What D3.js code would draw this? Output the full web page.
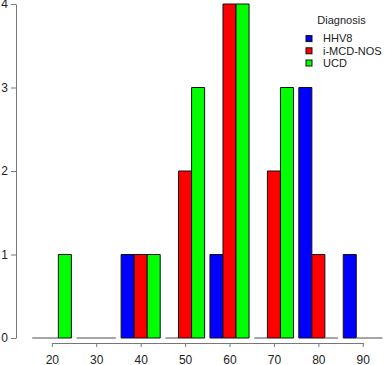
<!DOCTYPE html>
<html>
<head>
<meta charset="utf-8">
<script src="https://cdn.jsdelivr.net/npm/d3@7"></script>
<style>
  body { margin: 0; background: #fff; }
  svg { font-family: "Liberation Sans", Arial, sans-serif; }
</style>
</head>
<body>
<svg id="chart" width="385" height="365"></svg>
<script>
// age bins and counts per diagnosis
const bins = ["20", "30", "40", "50", "60", "70", "80", "90"];
const series = ["HHV8", "i-MCD-NOS", "UCD"];
const hhv8 = [0, 0, 1, 0, 1, 0, 3, 1];
const nos = [0, 0, 1, 2, 4, 2, 1, 0];
const ucd = [1, 0, 1, 3, 4, 3, 0, 0];
const colors = ["#0000ff", "#ff0000", "#00ff00"];
const yTicks = [0, 1, 2, 3, 4];

let svg = d3.select("#chart");

// build rows for the grouped bars
let rows = [];
bins.forEach(function(b, i) {
    rows.push({bin: b, key: series[0], value: hhv8[i]});
    rows.push({bin: b, key: series[1], value: nos[i]});
    rows.push({bin: b, key: series[2], value: ucd[i]});
});

let x = d3.scaleBand().domain(bins).range([29.6, 385]).paddingInner(0.12).paddingOuter(0.06);
let xInner = d3.scaleBand().domain(series).range([0, x.bandwidth()]);
let y = d3.scaleLinear().domain([0, 4]).range([338, 4]);
let color = d3.scaleOrdinal().domain(series).range(colors);

// bars (zero counts show as a flat line on the baseline)
svg.append("g").selectAll("path")
    .data(rows)
    .join("path")
    .attr("d", function(d) {
        let x0 = x(d.bin) + xInner(d.key);
        let x1 = x0 + xInner.bandwidth();
        return "M" + x0 + "," + y(0) + "V" + y(d.value) + "H" + x1 + "V" + y(0) + "Z";
    })
    .style("fill", d => d.value > 0 ? color(d.key) : "none")
    .style("stroke", d => d.value > 0 ? "#111" : "#888")
    .style("stroke-width", 1);

// axes, R style: line runs from first to last tick
let xAxisScale = d3.scalePoint().domain(bins)
    .range([x(bins[0]) + x.bandwidth() / 2, x(bins[bins.length - 1]) + x.bandwidth() / 2]);

let gx = svg.append("g")
    .attr("transform", "translate(0,343)")
    .call(d3.axisBottom(xAxisScale).tickSize(4).tickSizeOuter(0).tickPadding(8));

let gy = svg.append("g")
    .attr("transform", "translate(16,0)")
    .call(d3.axisLeft(y).tickValues(yTicks).tickFormat(d3.format("d")).tickSize(5).tickSizeOuter(0).tickPadding(3));

[gx, gy].forEach(function(g) {
    g.selectAll("path, line").attr("stroke", "#777");
    g.selectAll("text").attr("fill", "#222").style("font-size", "12px");
});

// legend
let legend = svg.append("g");
legend.append("text")
    .attr("x", 341.5).attr("y", 23.5)
    .attr("text-anchor", "middle")
    .style("font-size", "11px").attr("fill", "#222")
    .text("Diagnosis");

let items = legend.selectAll("g.item")
    .data(series)
    .join("g")
    .attr("class", "item")
    .attr("transform", (d, i) => "translate(306," + (38.6 + i * 12.2) + ")");

items.append("rect")
    .attr("x", 0).attr("y", -3)
    .attr("width", 6).attr("height", 6)
    .style("fill", d => color(d))
    .style("stroke", "#111");

items.append("text")
    .attr("x", 17).attr("y", 3.8)
    .style("font-size", "11px").attr("fill", "#222")
    .text(d => d);
</script>
</body>
</html>
